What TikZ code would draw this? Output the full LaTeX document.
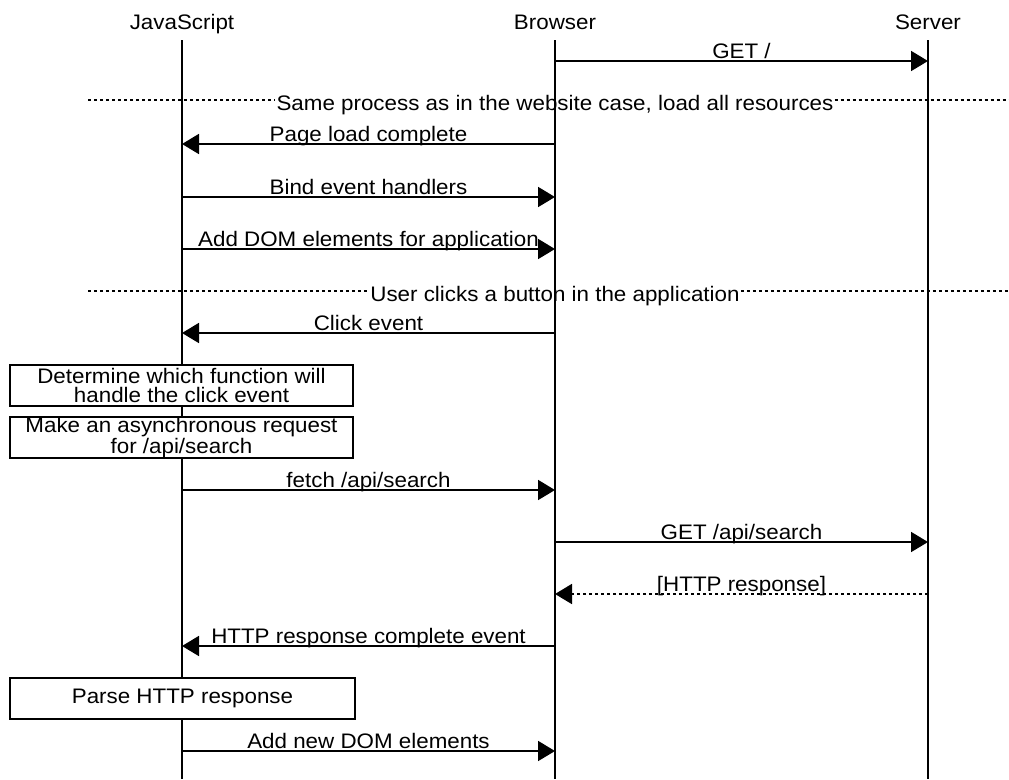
\documentclass[tikz,border=0pt]{standalone}
\usepackage{fontspec}
\setmainfont{Liberation Sans}[FakeStretch=1.065]
\usetikzlibrary{arrows.meta}
\newcommand\mscfont{\fontsize{21}{19}\selectfont}
\begin{document}
\begin{tikzpicture}[x=1pt,y=-1pt,
  life/.style={line width=1.8pt},
  msg/.style={line width=1.8pt,-{Triangle[length=17pt,width=20pt]}},
  reply/.style={msg,dash pattern=on 3pt off 3pt},
  lbl/.style={anchor=base,yshift=2.5pt,inner sep=0pt,font=\mscfont},
  divline/.style={line width=1.3pt,dash pattern=on 3pt off 3pt},
  divlbl/.style={anchor=base,inner xsep=1pt,inner ysep=0pt,font=\mscfont},
  actbox/.style={draw,fill=white,line width=1.8pt,minimum width=343pt,minimum height=41pt,align=center,inner sep=0pt,font=\mscfont},
  head/.style={anchor=base,inner sep=0pt,font=\mscfont}]
\useasboundingbox (0,0) rectangle (1009,779);
% headers
\node[head] (js) at (182,29) {JavaScript};
\node[head] (br) at (555,29) {Browser};
\node[head] (sv) at (928,29) {Server};
\coordinate (top) at (0,40);
\coordinate (bot) at (0,779);
\draw[life] (js |- top) -- (js |- bot);
\draw[life] (br |- top) -- (br |- bot);
\draw[life] (sv |- top) -- (sv |- bot);
% rows
\coordinate (r1) at (0,61);
\coordinate (r2) at (0,144);
\coordinate (r3) at (0,197);
\coordinate (r4) at (0,249);
\coordinate (r5) at (0,333);
\coordinate (r6) at (0,490);
\coordinate (r7) at (0,542);
\coordinate (r8) at (0,594);
\coordinate (r9) at (0,646);
\coordinate (r10) at (0,751);
% messages
\draw[msg] (br |- r1) -- node[lbl,midway]{GET /} (sv |- r1);
\draw[msg] (br |- r2) -- node[lbl,midway]{Page load complete} (js |- r2);
\draw[msg] (js |- r3) -- node[lbl,midway]{Bind event handlers} (br |- r3);
\draw[msg] (js |- r4) -- node[lbl,midway]{Add DOM elements for application} (br |- r4);
\draw[msg] (br |- r5) -- node[lbl,midway]{Click event} (js |- r5);
\draw[msg] (js |- r6) -- node[lbl,midway]{fetch /api/search} (br |- r6);
\draw[msg] (br |- r7) -- node[lbl,midway]{GET /api/search} (sv |- r7);
\draw[reply] (sv |- r8) -- node[lbl,midway]{[HTTP response]} (br |- r8);
\draw[msg] (br |- r9) -- node[lbl,midway]{HTTP response complete event} (js |- r9);
\draw[msg] (js |- r10) -- node[lbl,midway]{Add new DOM elements} (br |- r10);
% dividers
\node[divlbl] (d1) at (555,110) {Same process as in the website case, load all resources};
\coordinate (d1l) at (88,100);
\coordinate (d1r) at (1009,100);
\draw[divline] (d1l) -- (d1.west |- d1l);
\draw[divline] (d1.east |- d1r) -- (d1r);
\node[divlbl] (d2) at (555,301) {User clicks a button in the application};
\coordinate (d2l) at (88,291);
\coordinate (d2r) at (1009,291);
\draw[divline] (d2l) -- (d2.west |- d2l);
\draw[divline] (d2.east |- d2r) -- (d2r);
% boxes
\node[actbox] (b1) at (181.5,385.5) {Determine which function will\\handle the click event};
\node[actbox] (b2) at (181.5,437.5) {Make an asynchronous request\\for /api/search};
\node[actbox,minimum width=345pt] (b3) at (182.5,698.5) {Parse HTTP response};
\end{tikzpicture}
\end{document}
